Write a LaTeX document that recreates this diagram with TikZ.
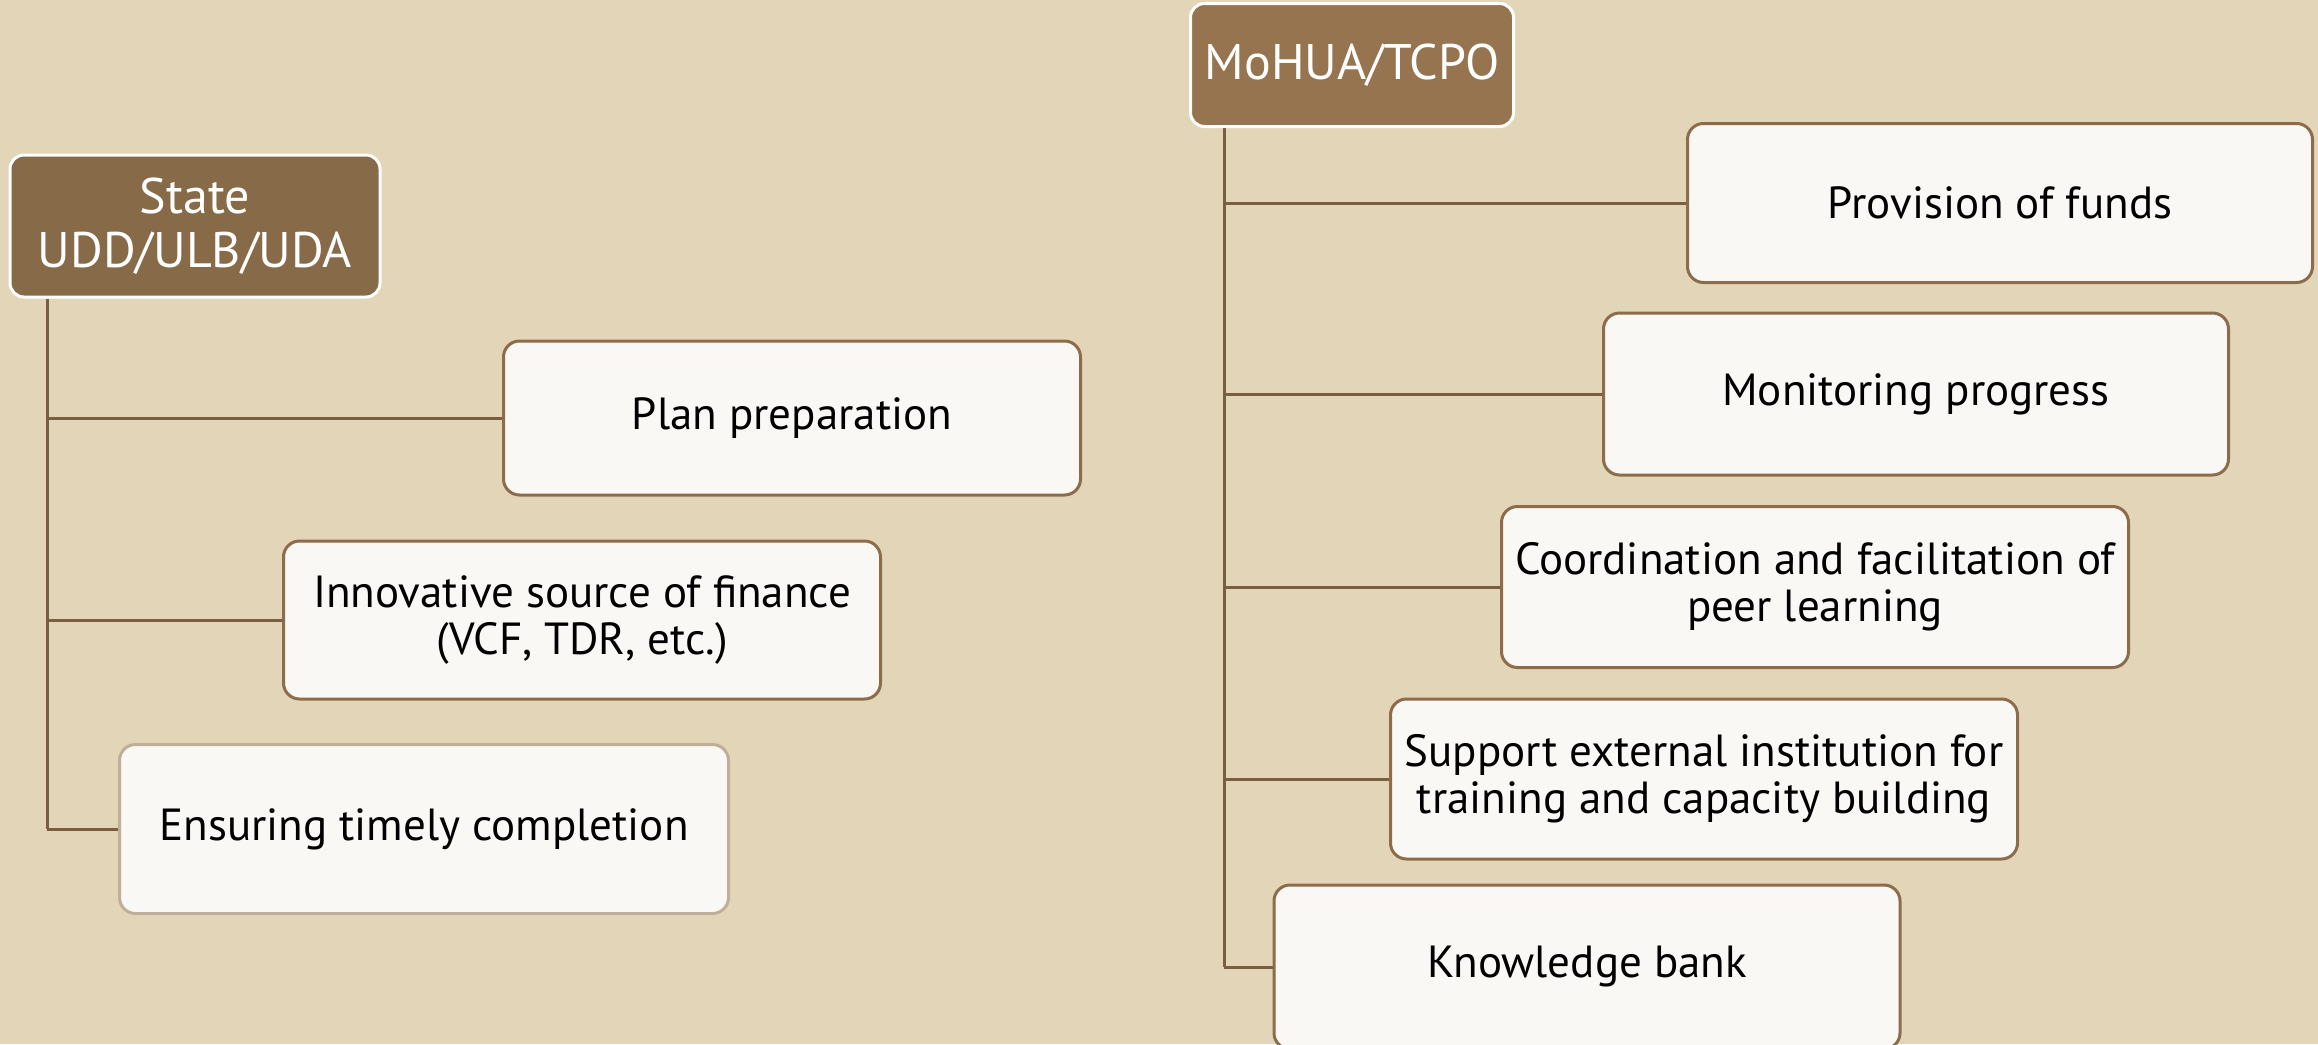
\documentclass[tikz,border=0pt]{standalone}
\usepackage{fontspec}
\setmainfont{PT Sans}
\definecolor{bg}{HTML}{E3D5B8}
\definecolor{headA}{HTML}{876A48}
\definecolor{headB}{HTML}{967450}
\definecolor{boxfill}{HTML}{FAF8F5}
\definecolor{boxline}{HTML}{8C6C4A}
\definecolor{boxlight}{HTML}{BFAE9A}
\definecolor{connline}{HTML}{7A5E40}
\begin{document}
\begin{tikzpicture}[x=1pt,y=-1pt,
  head/.style={draw=white, line width=3pt, rounded corners=14pt, text=white, align=center, inner sep=0pt, font=\fontsize{50}{54}\selectfont},
  itembox/.style={draw=boxline, line width=3pt, fill=boxfill, rounded corners=16pt, align=center, inner sep=0pt, font=\fontsize{45}{47}\selectfont, text=black},
  conn/.style={draw=connline, line width=3pt}]
\useasboundingbox (0,0) rectangle (2318,1044);
\fill[bg] (0,0) rectangle (2318,1044);
\clip (0,0) rectangle (2318,1044);
% left group
\node[head, fill=headA, minimum width=370pt, minimum height=142pt] (state) at (195,226) {State\\UDD/ULB/UDA};
\node[itembox, minimum width=577pt, minimum height=154pt] (plan) at (792,418) {Plan preparation};
\node[itembox, minimum width=597pt, minimum height=158pt] (innov) at (582,620) {Innovative source of finance\\(VCF, TDR, etc.)};
\node[itembox, draw=boxlight, minimum width=609pt, minimum height=169pt] (ensure) at (424,829) {Ensuring timely completion};
\coordinate (Lb) at (47,829);
\draw[conn] (Lb |- state.south) -- (Lb);
\draw[conn] (Lb) -- (ensure.west);
\draw[conn] (plan.west) -- (plan.west -| Lb);
\draw[conn] (innov.west) -- (innov.west -| Lb);
% right group
\node[head, fill=headB, minimum width=323pt, minimum height=123pt] (mohua) at (1352,65) {MoHUA/TCPO};
\node[itembox, minimum width=625pt, minimum height=159pt] (prov) at (2000,203) {Provision of funds};
\node[itembox, minimum width=625pt, minimum height=162pt] (mon) at (1916,394) {Monitoring progress};
\node[itembox, minimum width=627pt, minimum height=161pt] (coord) at (1815,587) {Coordination and facilitation of\\peer learning};
\node[itembox, minimum width=627pt, minimum height=160pt] (supp) at (1704,779) {Support external institution for\\training and capacity building};
\node[itembox, minimum width=626pt, minimum height=164pt] (know) at (1587,967) {Knowledge bank};
\coordinate (Rb) at (1224,967);
\draw[conn] (Rb |- mohua.south) -- (Rb);
\draw[conn] (Rb) -- (know.west);
\draw[conn] (prov.west) -- (prov.west -| Rb);
\draw[conn] (mon.west) -- (mon.west -| Rb);
\draw[conn] (coord.west) -- (coord.west -| Rb);
\draw[conn] (supp.west) -- (supp.west -| Rb);
\end{tikzpicture}
\end{document}
